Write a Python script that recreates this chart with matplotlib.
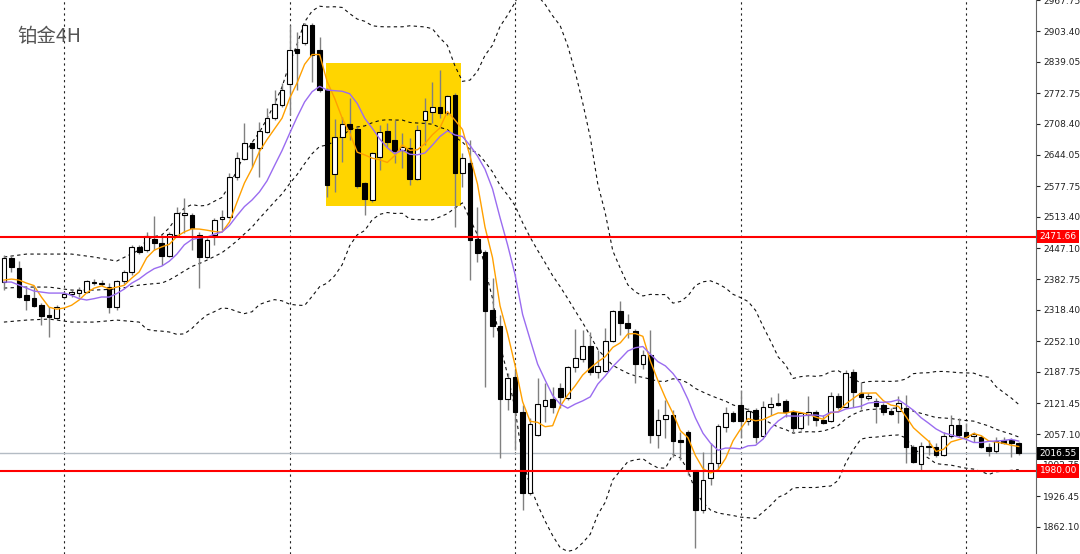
import matplotlib
matplotlib.use("Agg")
import matplotlib.pyplot as plt
import numpy as np
import pandas as pd
from matplotlib.patches import Rectangle

# ---- 4H candles (price) ----
opens = [
    2376, 2427, 2406, 2349, 2343, 2328, 2307, 2301, 2345, 2351,
    2353, 2355, 2376, 2372, 2366, 2324, 2378, 2397, 2450, 2444,
    2467, 2458, 2431, 2475, 2517, 2517, 2475, 2429, 2475, 2509,
    2513, 2597, 2635, 2668, 2658, 2691, 2721, 2748, 2792, 2866,
    2878, 2916, 2864, 2780, 2603, 2681, 2708, 2698, 2584, 2549,
    2639, 2693, 2675, 2654, 2658, 2593, 2717, 2733, 2744, 2731,
    2769, 2605, 2626, 2467, 2439, 2318, 2284, 2131, 2177, 2103,
    1933, 2055, 2116, 2131, 2154, 2133, 2198, 2215, 2242, 2187,
    2189, 2252, 2315, 2290, 2273, 2204, 2223, 2055, 2089, 2097,
    2045, 2061, 1982, 1898, 1965, 1996, 2072, 2101, 2118, 2084,
    2108, 2053, 2114, 2122, 2126, 2103, 2070, 2097, 2103, 2087,
    2084, 2137, 2114, 2187, 2143, 2133, 2126, 2118, 2105, 2105,
    2112, 2030, 1994, 2032, 2030, 2013, 2053, 2076, 2061, 2053,
    2051, 2030, 2021, 2045, 2045, 2038,
]
highs = [
    2433, 2433, 2420, 2366, 2366, 2332, 2324, 2328, 2355, 2360,
    2366, 2381, 2383, 2381, 2374, 2381, 2402, 2454, 2454, 2481,
    2515, 2475, 2481, 2534, 2553, 2521, 2481, 2469, 2511, 2528,
    2605, 2649, 2710, 2670, 2712, 2742, 2780, 2794, 2916, 2901,
    2920, 2920, 2891, 2784, 2719, 2723, 2763, 2702, 2586, 2649,
    2706, 2710, 2717, 2689, 2679, 2706, 2763, 2796, 2822, 2769,
    2773, 2647, 2675, 2534, 2444, 2385, 2307, 2185, 2192, 2118,
    2091, 2175, 2164, 2156, 2164, 2200, 2278, 2276, 2271, 2234,
    2280, 2318, 2336, 2309, 2278, 2234, 2276, 2110, 2129, 2108,
    2061, 2066, 1982, 2019, 2038, 2078, 2114, 2105, 2150, 2112,
    2112, 2126, 2135, 2143, 2131, 2108, 2103, 2137, 2108, 2097,
    2145, 2143, 2192, 2194, 2166, 2143, 2133, 2122, 2112, 2137,
    2139, 2034, 2040, 2045, 2038, 2061, 2097, 2091, 2080, 2061,
    2055, 2038, 2051, 2051, 2049, 2040,
]
lows = [
    2360, 2397, 2343, 2318, 2324, 2286, 2261, 2297, 2341, 2345,
    2345, 2353, 2370, 2368, 2311, 2318, 2372, 2391, 2435, 2439,
    2444, 2412, 2429, 2471, 2479, 2444, 2364, 2427, 2454, 2486,
    2511, 2591, 2633, 2618, 2597, 2689, 2717, 2744, 2727, 2780,
    2874, 2796, 2775, 2555, 2565, 2628, 2675, 2574, 2517, 2544,
    2612, 2660, 2626, 2616, 2580, 2591, 2664, 2710, 2721, 2727,
    2492, 2576, 2381, 2418, 2156, 2261, 2007, 2108, 2024, 1898,
    1929, 2053, 2082, 2101, 2112, 2129, 2187, 2208, 2181, 2175,
    2187, 2250, 2265, 2259, 2164, 2194, 2038, 2028, 2049, 2009,
    2003, 1971, 1818, 1891, 1950, 1982, 2061, 2082, 2049, 2076,
    2038, 2051, 2097, 2116, 2093, 2061, 2066, 2076, 2074, 2078,
    2082, 2110, 2112, 2114, 2110, 2129, 2080, 2097, 2097, 2080,
    1996, 1996, 1982, 2013, 2009, 2011, 2049, 2051, 2045, 2040,
    2028, 2011, 2017, 2036, 2009, 2013,
]
closes = [
    2427, 2408, 2345, 2339, 2326, 2305, 2303, 2324, 2351, 2355,
    2360, 2378, 2374, 2374, 2324, 2378, 2397, 2450, 2439, 2473,
    2458, 2431, 2477, 2521, 2521, 2490, 2429, 2465, 2507, 2513,
    2597, 2637, 2668, 2658, 2693, 2721, 2750, 2780, 2864, 2857,
    2916, 2853, 2780, 2580, 2681, 2708, 2698, 2578, 2551, 2647,
    2691, 2670, 2651, 2660, 2593, 2696, 2735, 2744, 2731, 2767,
    2605, 2637, 2465, 2437, 2315, 2284, 2131, 2175, 2103, 1933,
    2078, 2120, 2129, 2114, 2135, 2198, 2217, 2242, 2187, 2200,
    2252, 2315, 2290, 2280, 2204, 2223, 2055, 2087, 2097, 2042,
    2040, 1982, 1898, 1961, 1996, 2074, 2101, 2084, 2084, 2105,
    2051, 2114, 2120, 2118, 2103, 2070, 2101, 2103, 2087, 2080,
    2137, 2114, 2185, 2145, 2135, 2137, 2116, 2103, 2099, 2122,
    2030, 1998, 2032, 2030, 2013, 2053, 2076, 2055, 2051, 2057,
    2030, 2021, 2042, 2038, 2038, 2016.55,
]

# indicator values visible before their look-back window is filled
ma5_head = [2380.5, 2382.6, 2380.5, 2374.2]
ma10_head = [2376.3, 2376.3, 2370.0, 2363.7, 2357.4, 2355.3, 2353.2, 2353.2, 2353.2]
bb_head_idx = [0, 3, 6, 9, 12, 15, 18]
bb_upper_head = [2428.8, 2435.1, 2435.1, 2435.1, 2428.8, 2420.4, 2443.5]
bb_mid_head = [2363.7, 2365.8, 2365.8, 2359.5, 2359.5, 2361.6, 2370.0]
bb_lower_head = [2292.3, 2296.5, 2298.6, 2292.3, 2292.3, 2296.5, 2292.3]

# price levels
support = 1980.00
resistance = 2471.66
last_price = 2016.55

# highlighted consolidation box (bar index / price)
box_start, box_end = 42.85, 60.8
box_low, box_high = 2536, 2836

y_ticks = [2967.75, 2903.40, 2839.05, 2772.75, 2708.40, 2644.05, 2577.75,
           2513.40, 2447.10, 2382.75, 2318.40, 2252.10, 2187.75, 2121.45,
           2057.10, 1992.75, 1926.45, 1862.10]
grid_bars = [8, 38, 68, 98, 128]

# ---- indicators ----
c = pd.Series(closes, dtype=float)
ma5 = c.rolling(5).mean().values
ma10 = c.rolling(10).mean().values
bb_mid = c.rolling(20).mean()
bb_std = c.rolling(20).std(ddof=0)
bb_up = (bb_mid + 2 * bb_std).values
bb_dn = (bb_mid - 2 * bb_std).values
bb_mid = bb_mid.values

n = len(closes)
x = np.arange(n)
ma5[:4] = ma5_head
ma10[:9] = ma10_head
bx = np.concatenate([bb_head_idx, x[19:]])
up_line = np.concatenate([bb_upper_head, bb_up[19:]])
mid_line = np.concatenate([bb_mid_head, bb_mid[19:]])
dn_line = np.concatenate([bb_lower_head, bb_dn[19:]])

# ---- figure ----
fig = plt.figure(figsize=(10.8, 5.54), dpi=100)
ax = fig.add_axes([0, 0, 1036 / 1080, 1])

ax.add_patch(Rectangle((box_start, box_low), box_end - box_start, box_high - box_low,
                       facecolor="#FFD500", edgecolor="none", zorder=1))

ax.axhline(last_price, color="#b4bcc4", lw=1, zorder=1.5)

# Bollinger bands
band_style = dict(color="#111111", lw=0.8, ls=(0, (3, 3)), zorder=2)
ax.plot(bx, up_line, **band_style)
ax.plot(bx, mid_line, **band_style)
ax.plot(bx, dn_line, **band_style)

# candles
o = np.array(opens, dtype=float)
cl = np.array(closes, dtype=float)
up = cl >= o
ax.vlines(x, lows, highs, color="#808080", lw=1, zorder=3)
ax.bar(x, np.abs(cl - o), bottom=np.minimum(o, cl), width=0.62,
       color=np.where(up, "white", "black"), edgecolor="black", linewidth=0.8, zorder=4)

# moving averages
ax.plot(x, ma5, color="#FFA000", lw=1, zorder=5)
ax.plot(x, ma10, color="#9a6cf0", lw=1, zorder=5)

ax.axhline(resistance, color="red", lw=1.5, zorder=6)
ax.axhline(support, color="red", lw=1.5, zorder=6)

ax.set_xlim(-0.52, 137.3)
ax.set_ylim(1805.4, 2968.5)

ax.set_xticks(grid_bars)
ax.tick_params(axis="x", length=0, labelbottom=False)
ax.xaxis.grid(True, color="#222222", lw=0.8, ls=(0, (2, 3)), zorder=0)
ax.set_axisbelow(True)

ax.yaxis.tick_right()
ax.set_yticks(y_ticks)
ax.set_yticklabels([f"{v:.2f}" for v in y_ticks])
ax.tick_params(axis="y", direction="out", length=3, width=0.8, pad=2,
               labelsize=6.5, colors="#222222")
for s in ["left", "top", "bottom"]:
    ax.spines[s].set_visible(False)
ax.spines["right"].set_color("#666666")

# price tags on the axis
tag_tf = ax.get_yaxis_transform()
for val, bg in [(resistance, "#ff0000"), (last_price, "black"), (support, "#ff0000")]:
    ax.text(1.0035, val, f"{val:.2f}", transform=tag_tf, ha="left", va="center",
            fontsize=6.5, color="white", clip_on=False, zorder=10,
            bbox=dict(boxstyle="square,pad=0.25", fc=bg, ec="none"))

ax.text(0.017, 0.935, "铂金4H", transform=ax.transAxes, ha="left", va="center",
        fontsize=14, color="#555555", family=["Noto Sans CJK SC", "DejaVu Sans"], zorder=10)

fig.savefig("out.png", dpi=100)
